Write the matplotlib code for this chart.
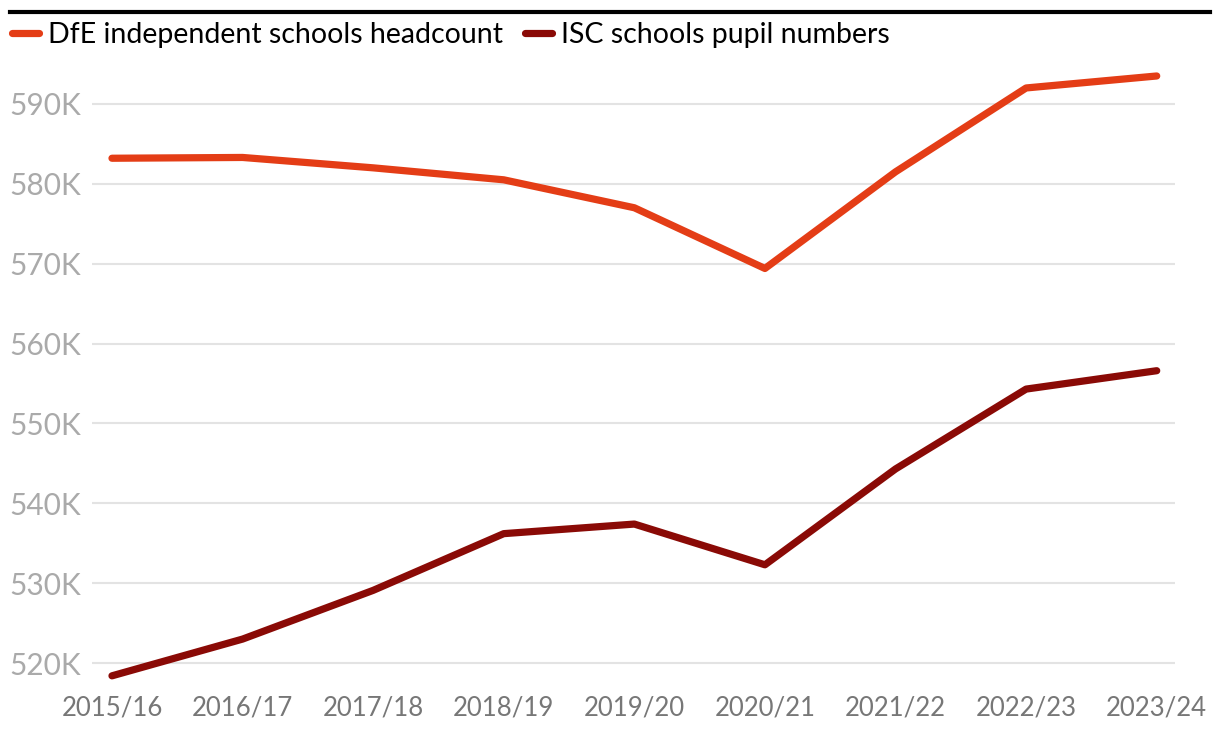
import matplotlib
matplotlib.use("Agg")
import matplotlib.pyplot as plt
from matplotlib.lines import Line2D
from matplotlib.ticker import FuncFormatter

years = ["2015/16", "2016/17", "2017/18", "2018/19", "2019/20",
         "2020/21", "2021/22", "2022/23", "2023/24"]
dfe_headcount = [583.2, 583.3, 582.0, 580.5, 577.0, 569.4, 581.5, 592.0, 593.5]
isc_pupils = [518.4, 523.0, 529.1, 536.2, 537.4, 532.3, 544.3, 554.3, 556.6]
yticks = [520, 530, 540, 550, 560, 570, 580, 590]
series_names = ["DfE independent schools headcount", "ISC schools pupil numbers"]
colors = ["#E43D16", "#8A0A06"]

plt.rcParams['font.family'] = ['Lato', 'DejaVu Sans']

fig = plt.figure(figsize=(12.2, 7.34), dpi=100)
ax = fig.add_axes([92/1220, 1 - 691/734, (1175-92)/1220, (691-64)/734])

x = list(range(len(years)))
ax.plot(x, dfe_headcount, color=colors[0], lw=5.2, solid_capstyle='round', solid_joinstyle='round', zorder=3)
ax.plot(x, isc_pupils, color=colors[1], lw=5.2, solid_capstyle='round', solid_joinstyle='round', zorder=3)

ax.set_xlim(-0.153, 8.14)
ax.set_ylim(516.5, 595)
ax.set_yticks(yticks)
ax.yaxis.set_major_formatter(FuncFormatter(lambda v, p: f"{int(v)}K"))
ax.set_xticks(x)
ax.set_xticklabels(years)
ax.grid(axis='y', color='#e3e3e3', lw=1.5)
ax.set_axisbelow(True)
for s in ax.spines.values():
    s.set_visible(False)
ax.tick_params(axis='y', length=0, pad=8, labelsize=21.5, labelcolor='#aaaaaa')
ax.tick_params(axis='x', length=0, pad=3, labelsize=18.5, labelcolor='#777777')

# top rule
fig.add_artist(Line2D([10/1220, 1210/1220], [1 - 12/734, 1 - 12/734], color='black', lw=3))

handles = [Line2D([0], [0], color=c, lw=5.2, solid_capstyle='round') for c in colors]
fig.legend(handles, series_names, loc='center left', bbox_to_anchor=(12/1220, 1 - 35/734),
           ncol=2, frameon=False, fontsize=20.5, handlelength=0.95, handletextpad=0.3,
           columnspacing=0.8, borderaxespad=0, borderpad=0)

fig.savefig("out.png", dpi=100)
